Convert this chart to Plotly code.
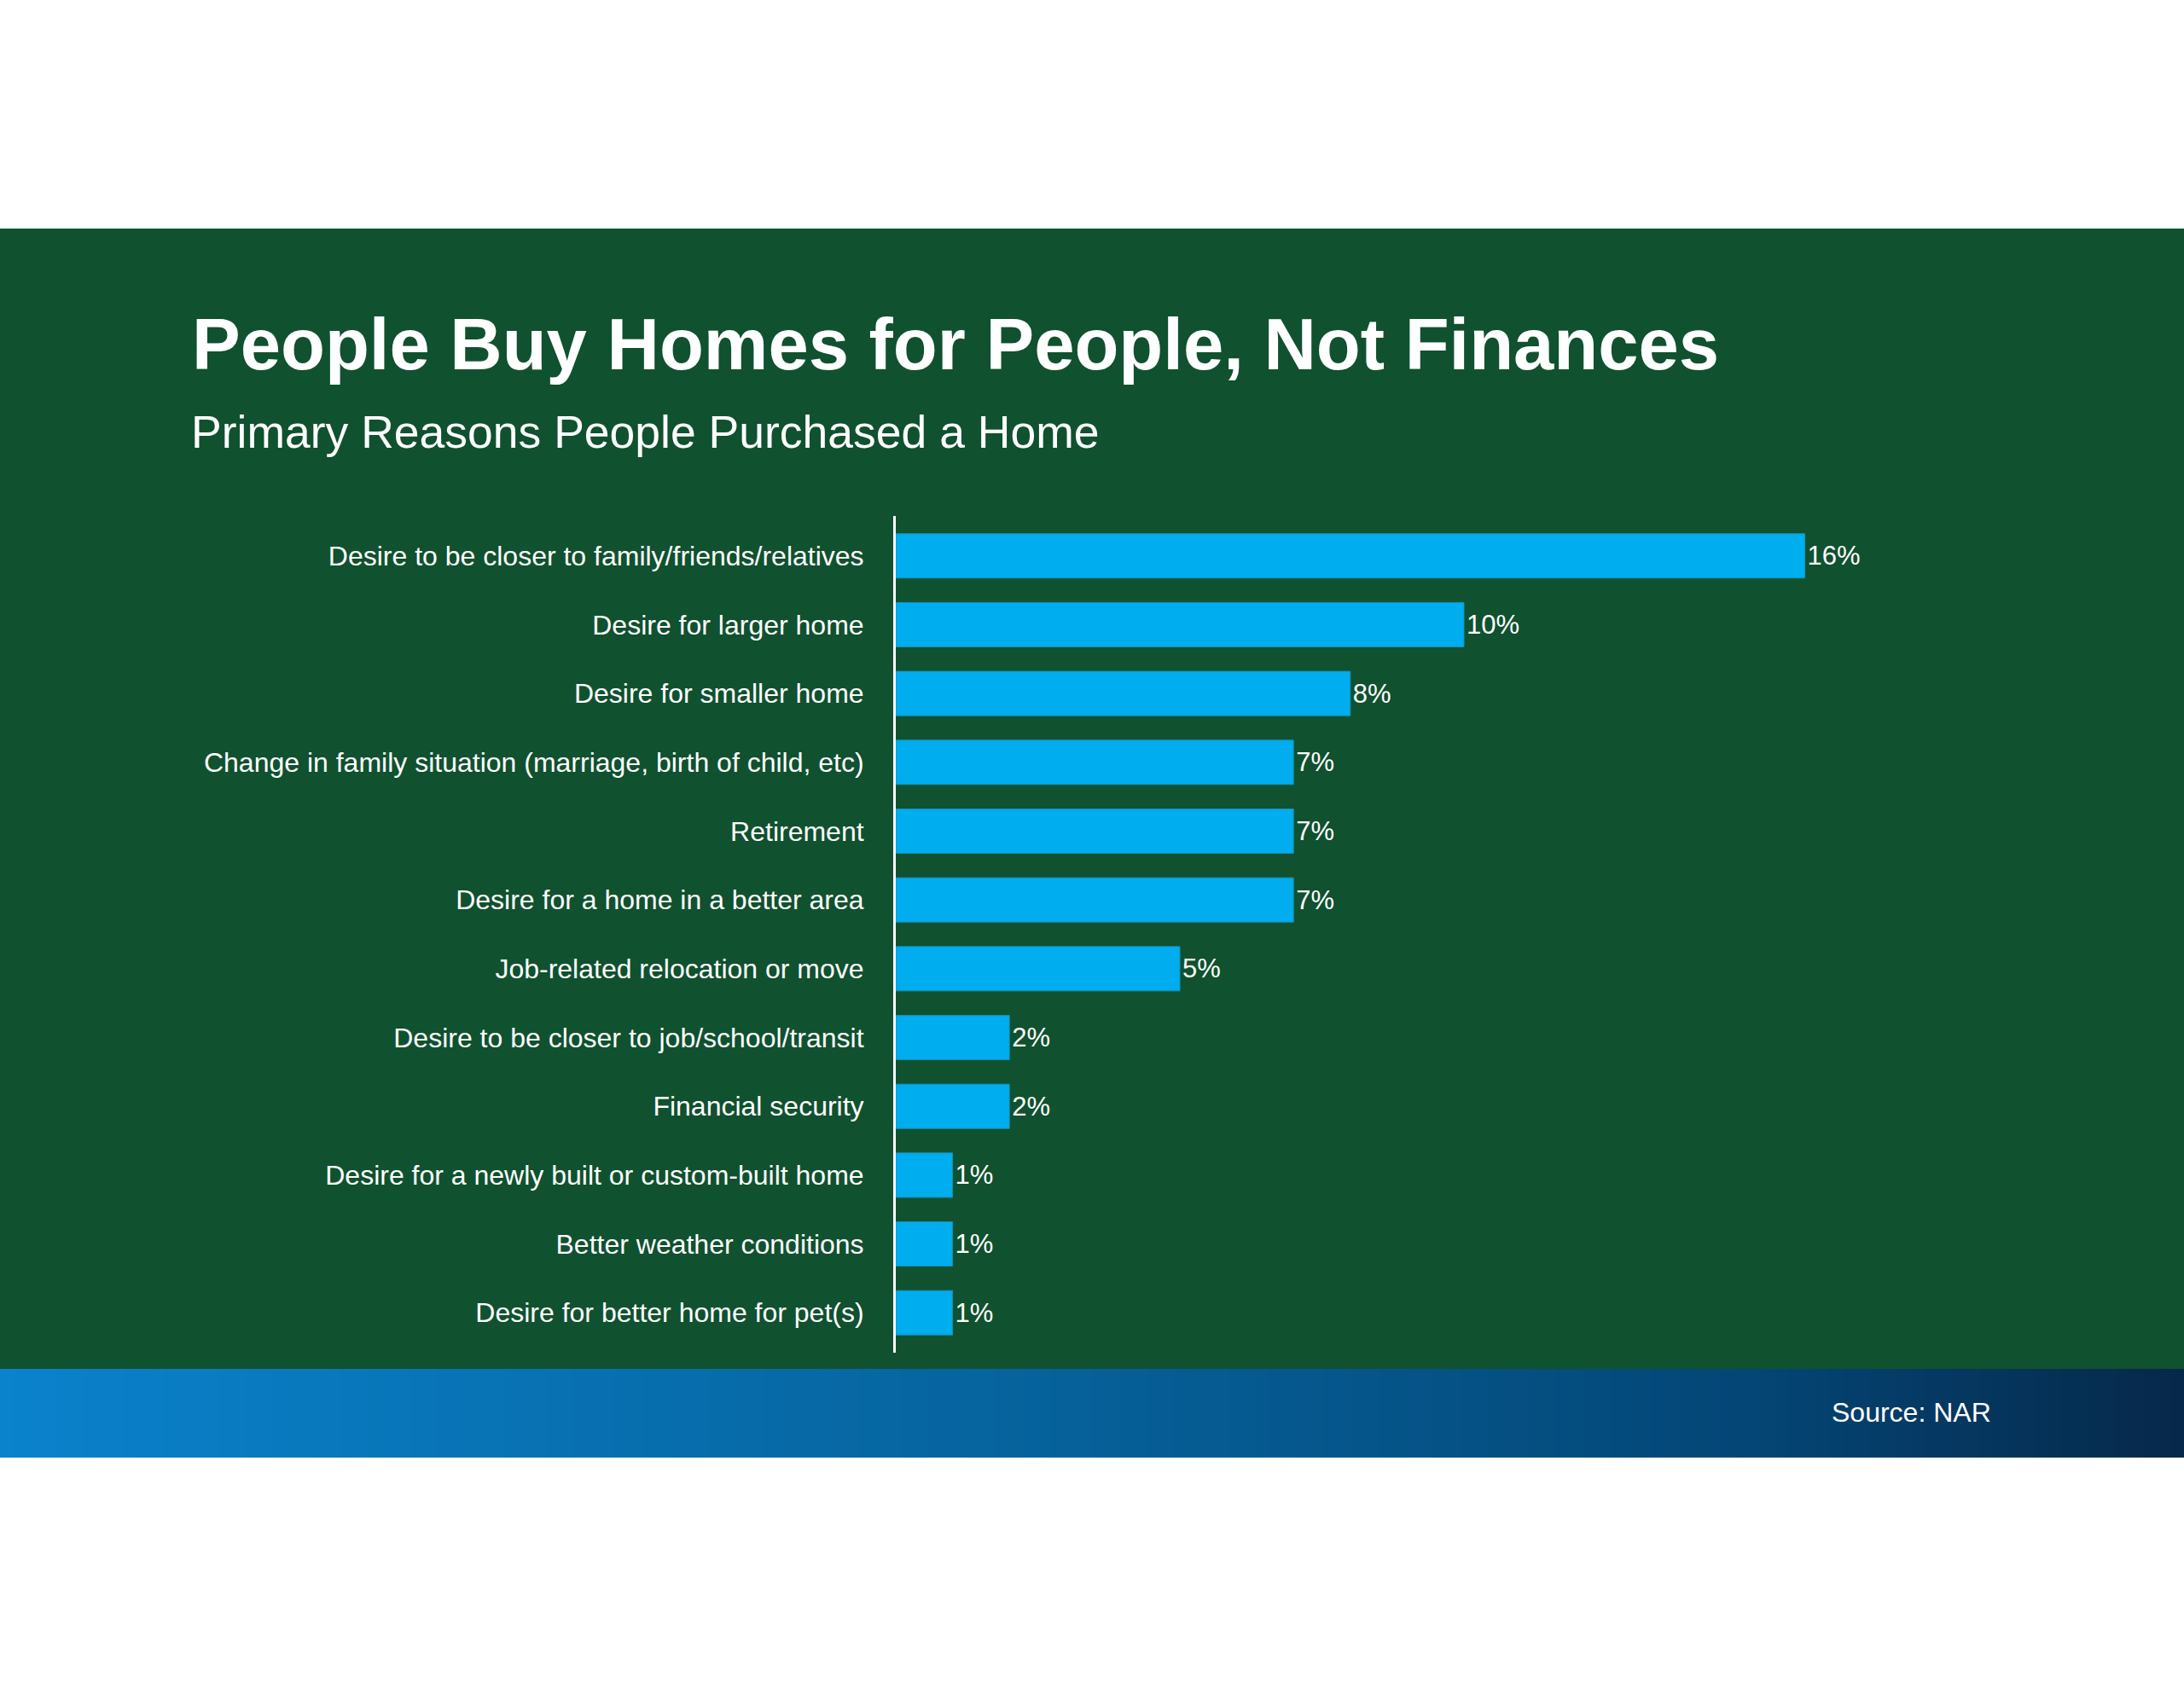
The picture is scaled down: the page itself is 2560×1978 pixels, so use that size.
import plotly.graph_objects as go

W, H = 2560, 1978

categories = [
    "Desire to be closer to family/friends/relatives",
    "Desire for larger home",
    "Desire for smaller home",
    "Change in family situation (marriage, birth of child, etc)",
    "Retirement",
    "Desire for a home in a better area",
    "Job-related relocation or move",
    "Desire to be closer to job/school/transit",
    "Financial security",
    "Desire for a newly built or custom-built home",
    "Better weather conditions",
    "Desire for better home for pet(s)",
]
values = [16, 10, 8, 7, 7, 7, 5, 2, 2, 1, 1, 1]

title_text = "People Buy Homes for People, Not Finances"
subtitle_text = "Primary Reasons People Purchased a Home"
source_text = "Source: NAR"

GREEN = "#10512F"
BAR = "#00ADEE"
FONT = "Liberation Sans, Arial, sans-serif"


def py(pix):
    return 1 - pix / H


def px(pix):
    return pix / W


fig = go.Figure()
fig.add_trace(go.Bar(
    x=values,
    y=categories,
    orientation="h",
    marker=dict(color=BAR, line=dict(color="#1A8FB5", width=1)),
    text=[f"{v}%" for v in values],
    texttemplate="%{text}",
    textposition="outside",
    textfont=dict(color="white", size=31, family=FONT),
    cliponaxis=False,
    width=0.645,
    hoverinfo="skip",
))

shapes = []
# green band
shapes.append(dict(type="rect", xref="paper", yref="paper", x0=0, x1=1,
                   y0=py(1605), y1=py(268), fillcolor=GREEN,
                   line=dict(width=0), layer="below"))


# footer gradient
def lerp(c1, c2, t):
    return tuple(int(round(a + (b - a) * t)) for a, b in zip(c1, c2))


stops = [(0.0, (10, 130, 204)), (0.45, (6, 100, 158)), (0.8, (4, 70, 118)), (1.0, (6, 40, 74))]
N = 160
for i in range(N):
    t = (i + 0.5) / N
    for j in range(len(stops) - 1):
        if stops[j][0] <= t <= stops[j + 1][0]:
            tt = (t - stops[j][0]) / (stops[j + 1][0] - stops[j][0])
            c = lerp(stops[j][1], stops[j + 1][1], tt)
            break
    shapes.append(dict(type="rect", xref="paper", yref="paper",
                       x0=i / N, x1=(i + 1) / N + 0.0005,
                       y0=py(1709), y1=py(1605),
                       fillcolor=f"rgb{c}", line=dict(width=0), layer="below"))

annotations = [
    dict(text=f"<b>{title_text}</b>", x=px(223), y=py(403), xref="paper", yref="paper",
         xanchor="left", yanchor="middle", showarrow=False,
         font=dict(size=85, color="white", family=FONT)),
    dict(text=subtitle_text, x=px(222), y=py(506), xref="paper", yref="paper",
         xanchor="left", yanchor="middle", showarrow=False,
         font=dict(size=53.5, color="white", family=FONT)),
    dict(text=source_text, x=px(2336), y=py(1656), xref="paper", yref="paper",
         xanchor="right", yanchor="middle", showarrow=False,
         font=dict(size=32, color="white", family=FONT)),
]

fig.update_layout(
    width=W, height=H,
    margin=dict(l=0, r=0, t=0, b=0, pad=0),
    paper_bgcolor="white",
    plot_bgcolor="rgba(0,0,0,0)",
    showlegend=False,
    shapes=shapes,
    annotations=annotations,
    font=dict(family=FONT, color="white"),
    xaxis=dict(domain=[px(1050), px(2382)], range=[0, 20], visible=False,
               showgrid=False, zeroline=False, fixedrange=True),
    yaxis=dict(domain=[py(1586), py(605)], type="category",
               categoryorder="array", categoryarray=categories,
               range=[11.58, -0.58], showgrid=False, zeroline=False,
               showline=True, linecolor="white", linewidth=3,
               ticks="", ticklabelstandoff=28,
               tickfont=dict(size=32, color="white", family=FONT),
               fixedrange=True),
)

fig.write_html("out.html", config={"displayModeBar": False},
               post_script="document.body.style.margin='0';document.body.style.overflow='hidden';")
